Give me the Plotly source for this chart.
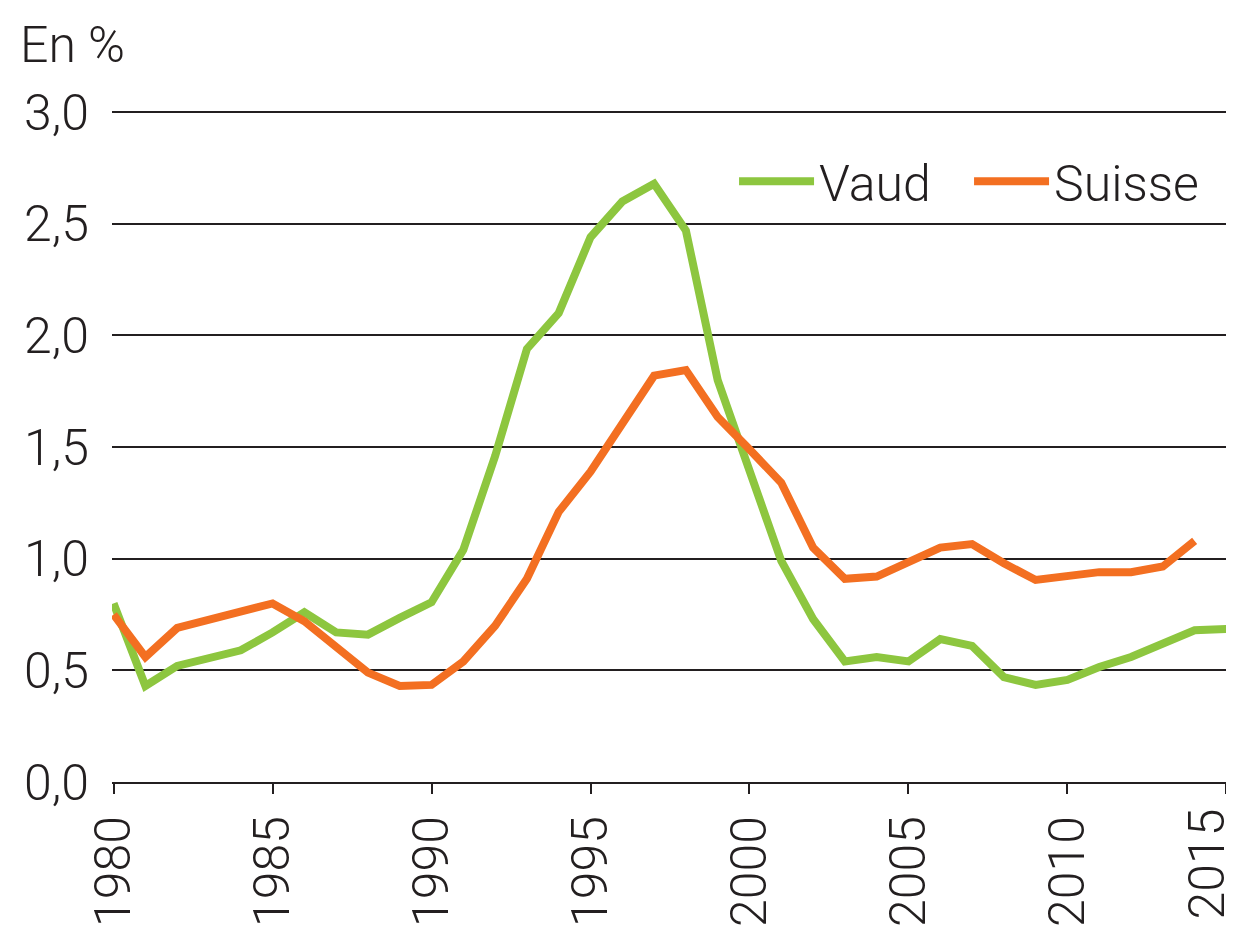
import plotly.graph_objects as go

years = list(range(1980, 2016))
vaud = [0.80, 0.43, 0.52, 0.555, 0.59, 0.67, 0.76, 0.67, 0.66, 0.735,
        0.805, 1.04, 1.46, 1.94, 2.10, 2.44, 2.60, 2.68, 2.47, 1.80,
        1.40, 0.99, 0.73, 0.54, 0.56, 0.54, 0.64, 0.61, 0.47, 0.435,
        0.457, 0.515, 0.56, 0.62, 0.68, 0.685]
suisse_years = list(range(1980, 2015))
suisse = [0.75, 0.56, 0.69, 0.725, 0.765, 0.80, 0.72, 0.60, 0.49, 0.43,
          0.435, 0.54, 0.70, 0.91, 1.21, 1.39, 1.61, 1.82, 1.845, 1.635,
          1.49, 1.34, 1.05, 0.91, 0.92, 0.985, 1.05, 1.066, 0.98, 0.905,
          0.92, 0.94, 0.94, 0.965, 1.08]
x_ticks = [1980, 1985, 1990, 1995, 2000, 2005, 2010, 2015]
y_ticks = [0, 0.5, 1.0, 1.5, 2.0, 2.5, 3.0]

GREEN = "#8DC63F"
ORANGE = "#F36F21"
INK = "#231F20"
FONT = "Roboto, Liberation Sans, Arial, sans-serif"

# page body has an 8px margin: the figure is offset by 8px
OFF = 8
W, H = 1234 - OFF, 930 - OFF
# target plot frame in window pixels: x 1980->114, 2015->1226 ; y 0->782, 3->112
X0, X1, Y0, Y1 = 114, 1226, 782, 112
XPAD, YPAD = 0.05, 0.01           # small range padding so end ticks/grid are kept
pxy = (X1 - X0) / 35.0
pyv = (Y0 - Y1) / 3.0
L = X0 - OFF - XPAD * pxy
R = W - (X1 - OFF + XPAD * pxy)
T = Y1 - OFF - YPAD * pyv
B = H - (Y0 - OFF)
PW, PH = W - L - R, H - T - B

# last tick label is pulled inwards (as in the original) so it is not cut
tick_text = [str(v) for v in x_ticks[:-1]] + [""]

fig = go.Figure()
fig.add_trace(go.Scatter(x=years, y=vaud, mode="lines", name="Vaud",
                         line=dict(color=GREEN, width=8)))
fig.add_trace(go.Scatter(x=suisse_years, y=suisse, mode="lines", name="Suisse",
                         line=dict(color=ORANGE, width=8)))

fig.update_layout(
    width=W, height=H,
    margin=dict(l=L, r=R, t=T, b=B, autoexpand=False),
    paper_bgcolor="white", plot_bgcolor="white",
    separators=", ",
    font=dict(family=FONT, size=50, color=INK, weight=300),
    showlegend=True,
    legend=dict(orientation="h", x=(734 - OFF - L) / PW, y=(Y0 - 181) / PH,
                xanchor="left", yanchor="middle",
                font=dict(size=50, weight=300), bgcolor="rgba(0,0,0,0)",
                itemwidth=75, entrywidth=145, entrywidthmode="pixels",
                traceorder="normal"),
)
fig.add_annotation(text="En %", xref="paper", yref="paper",
                   x=(18 - OFF - L) / PW, y=(Y0 - 45) / PH,
                   xanchor="left", yanchor="middle", showarrow=False,
                   font=dict(size=50, weight=300))
fig.add_annotation(text=str(x_ticks[-1]), xref="x", yref="paper",
                   x=x_ticks[-1], y=(Y0 - 864) / PH, textangle=-90,
                   xanchor="center", yanchor="middle", xshift=-19,
                   showarrow=False, font=dict(size=50, weight=300))

fig.update_xaxes(range=[1980 - XPAD, 2015 + XPAD], tickmode="array",
                 tickvals=x_ticks, ticktext=tick_text, tickangle=-90,
                 showgrid=False, showline=True, linecolor=INK, linewidth=2,
                 ticks="outside", ticklen=10, tickwidth=2, tickcolor=INK,
                 zeroline=False, ticklabelstandoff=2)
fig.update_yaxes(range=[0, 3 + YPAD], tickmode="array",
                 tickvals=y_ticks, tickformat=".1f",
                 showgrid=True, gridcolor=INK, gridwidth=2,
                 showline=False, zeroline=False, ticks="", ticklabelstandoff=22)

fig.write_html("out.html")
